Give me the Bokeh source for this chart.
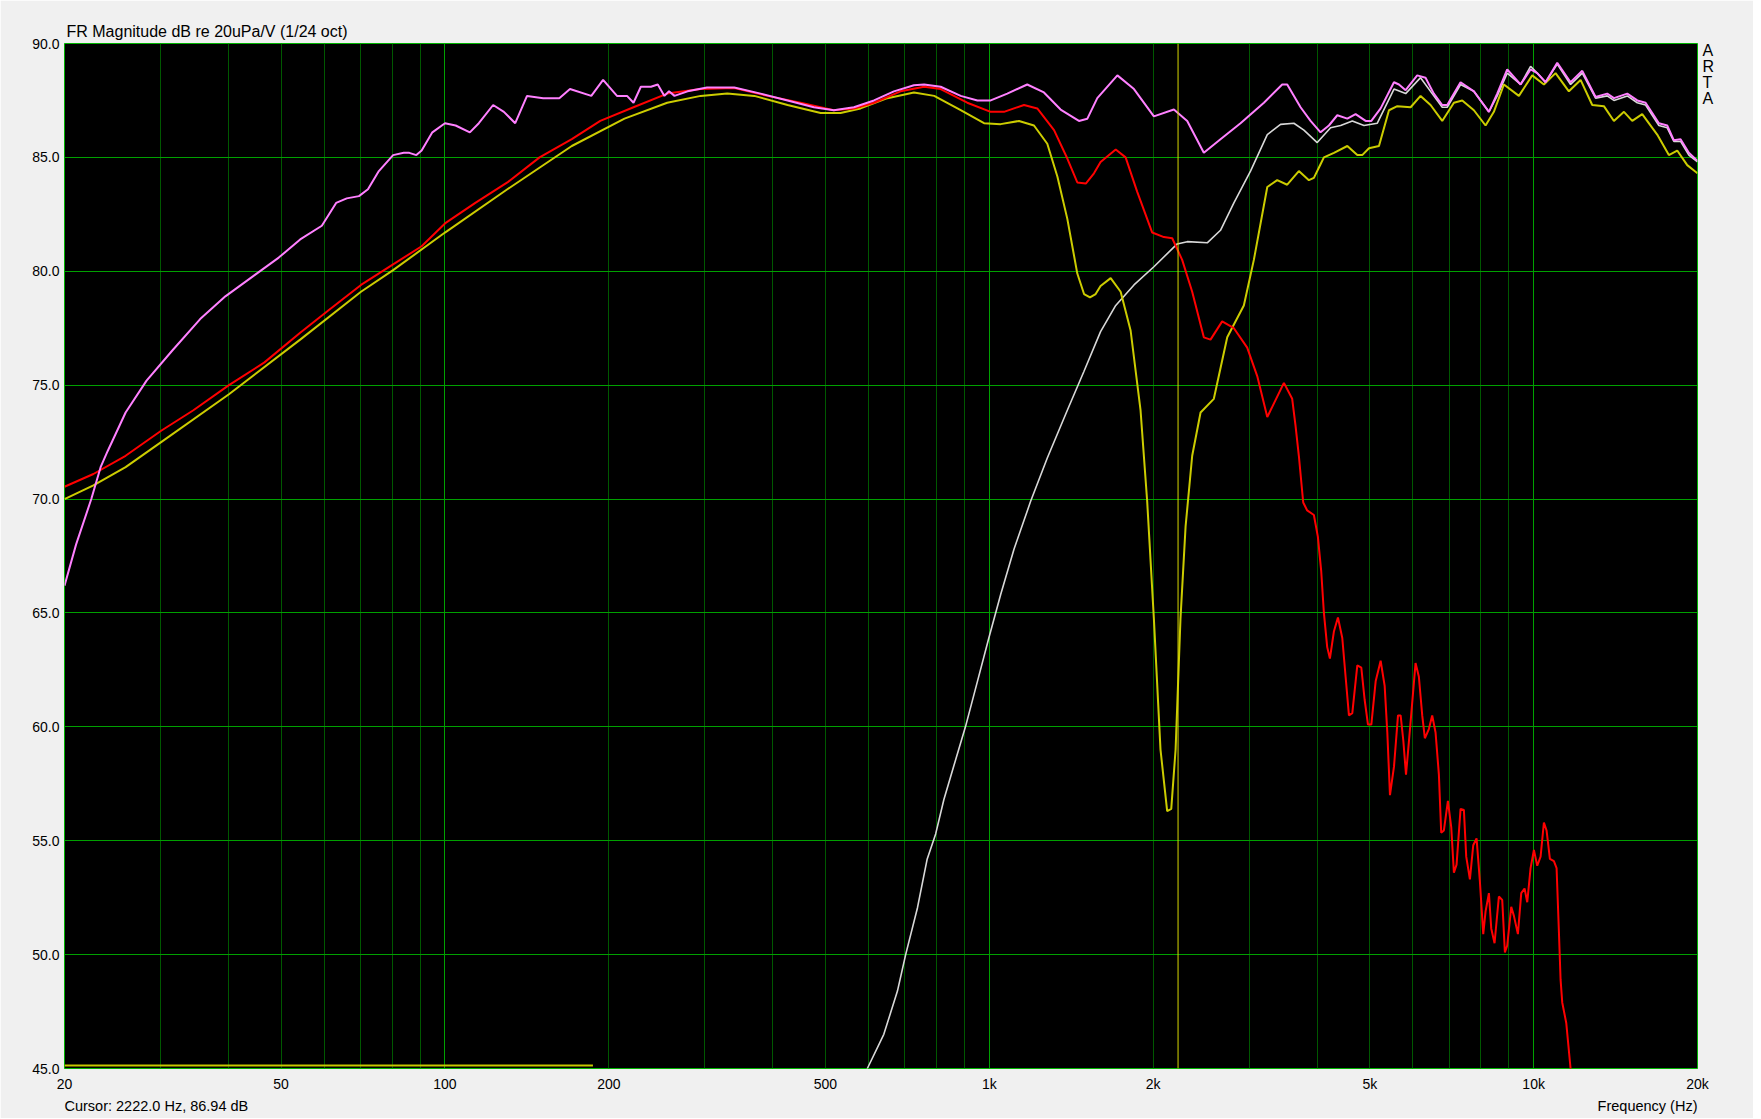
from bokeh.plotting import figure
from bokeh.models import (FixedTicker, Grid, Span, Title, NumeralTickFormatter, Range1d,
                          LogAxis, LinearAxis)
from bokeh.embed import file_html
from bokeh.resources import INLINE

# ---------------- data ----------------
pink_f = [20, 21.0, 22.4, 23.3, 24.0, 25.9, 28.3, 31.5, 35.5, 39.5, 44.5, 49.5, 54.2, 59.4, 63.1, 66.0,
          69.5, 72.2, 75.6, 80.3, 84.0, 86.0, 88.6, 90.6, 94.8, 100.0, 104.6, 111.1, 115.4, 122.6, 128.3,
          134.6, 141.5, 151.5, 162.2, 169.7, 185.7, 195.2, 207, 216, 222, 229, 239, 246, 253, 258, 264,
          279, 303, 340, 380, 426, 476, 518, 564, 614, 668, 727, 759, 814, 886, 951, 1006, 1079, 1174,
          1260, 1352, 1461, 1514, 1579, 1719, 1844, 2006, 2183, 2310, 2478, 2659, 2894, 3195, 3452, 3526,
          3731, 3892, 4060, 4206, 4358, 4547, 4709, 4913, 5033, 5235, 5539, 5657, 5819, 6111, 6330, 6556,
          6793, 6938, 7341, 7767, 7988, 8276, 8572, 8943, 9462, 9871, 10153, 10518, 11050, 11691, 12285,
          12996, 13651, 14044, 14860, 15501, 16057, 16987, 17595, 18098, 18617, 19282, 20000]
pink_db = [66.2, 68.0, 70.0, 71.4, 72.1, 73.8, 75.2, 76.5, 77.9, 78.9, 79.8, 80.6, 81.4, 82.0, 83.0, 83.2,
           83.3, 83.6, 84.4, 85.1, 85.2, 85.2, 85.1, 85.3, 86.1, 86.5, 86.4, 86.1, 86.5, 87.3, 87.0,
           86.5, 87.7, 87.6, 87.6, 88.0, 87.7, 88.4, 87.7, 87.7, 87.4, 88.1, 88.1, 88.2, 87.7, 87.9, 87.7,
           87.9, 88.07, 88.07, 87.8, 87.5, 87.2, 87.07, 87.2, 87.5, 87.9, 88.17, 88.2, 88.1, 87.7, 87.5, 87.5, 87.8, 88.2,
           87.85, 87.1, 86.6, 86.7, 87.6, 88.6, 88.0, 86.8, 87.1, 86.6, 85.2, 85.8, 86.5, 87.4, 88.2, 88.2,
           87.2, 86.6, 86.1, 86.4, 86.85, 86.7, 86.9, 86.6, 86.6, 87.15, 88.3, 88.2, 87.95, 88.6, 88.5, 87.8,
           87.3, 87.3, 88.3, 87.9, 87.5, 87.0, 87.8, 88.86, 88.2, 88.86, 88.7, 88.3, 89.15, 88.3, 88.8,
           87.65, 87.8, 87.6, 87.8, 87.5, 87.4, 86.5, 86.4, 85.75, 85.8, 85.2, 84.85]

red_f = [20, 22.6, 25.9, 30.1, 34.5, 40.1, 46.6, 54.2, 61.2, 70.1, 80.3, 90.6, 100, 113.7, 130.2, 149.2,
         171, 192.9, 222, 256, 295, 340, 391, 450, 518, 564, 614, 687, 759, 814, 911, 1006, 1064, 1158,
         1225, 1315, 1391, 1451, 1504, 1557, 1601, 1707, 1780, 1869, 1992, 2093, 2168, 2261, 2359, 2478,
         2549, 2678, 2814, 2977, 3106, 3241, 3477, 3601, 3653, 3704, 3773, 3837, 3947, 4014, 4071, 4118,
         4176, 4224, 4297, 4370, 4451, 4514, 4578, 4644, 4743, 4824, 4892, 4962, 5033, 5126, 5235, 5325,
         5385, 5446, 5539, 5634, 5697, 5762, 5828, 5927, 6068, 6154, 6242, 6312, 6420, 6511, 6604, 6698,
         6764, 6841, 6958, 7057, 7137, 7218, 7341, 7445, 7519, 7637, 7745, 7855, 7967, 8080, 8160, 8276,
         8358, 8476, 8633, 8756, 8855, 8943, 9096, 9199, 9356, 9489, 9623, 9733, 9871, 10011, 10153,
         10298, 10444, 10562, 10712, 10895, 11019, 11128, 11207, 11286, 11479, 11691, 11800]
red_db = [70.54, 71.1, 71.9, 73.0, 73.9, 75.0, 76.0, 77.3, 78.3, 79.4, 80.3, 81.1, 82.1, 83.0, 83.9, 85.0,
          85.8, 86.6, 87.2, 87.8, 88.0, 88.05, 87.7, 87.4, 87.07, 87.15, 87.4, 87.9, 88.1, 88.0, 87.4, 87.0, 87.0, 87.3,
          87.15, 86.2, 84.95, 83.9, 83.85, 84.3, 84.8, 85.35, 85.0, 83.5, 81.7, 81.5, 81.45, 80.5, 79.1, 77.1,
          77.0, 77.8, 77.5, 76.65, 75.4, 73.6, 75.1, 74.4, 73.2, 71.9, 69.85, 69.5, 69.3, 68.35, 66.85, 65.0,
          63.5, 63.0, 64.2, 64.8, 63.9, 62.2, 60.5, 60.6, 62.7, 62.6, 61.2, 60.1, 60.1, 62.0, 62.9, 61.8,
          59.75, 57.0, 58.25, 60.5, 60.5, 59.4, 57.9, 59.9, 62.8, 62.2, 60.5, 59.5, 59.9, 60.5, 59.75, 57.9,
          55.35, 55.45, 56.75, 55.6, 53.6, 53.95, 56.4, 56.35, 54.3, 53.3, 54.8, 55.1, 53.2, 50.9, 51.9, 52.7,
          51.15, 50.5, 52.55, 52.4, 50.1, 50.4, 52.1, 51.7, 50.9, 52.7, 52.9, 52.3, 53.8, 54.6, 53.9,
          54.3, 55.8, 55.45, 54.2, 54.1, 53.8, 51.0, 48.9, 47.9, 47.0, 45.0, 44.4]

yellow_f = [20, 22.6, 25.9, 30.1, 40.1, 54.2, 70.1, 80.3, 100, 130.2, 171, 213.7, 256, 295, 330, 370, 426,
            490, 533, 580, 650, 727, 792, 886, 978, 1049, 1134, 1208, 1278, 1334, 1391, 1451, 1493, 1531,
            1568, 1601, 1671, 1743, 1818, 1896, 1950, 2006, 2063, 2122, 2159, 2199, 2245, 2294, 2359, 2444,
            2585, 2736, 2935, 3062, 3241, 3380, 3526, 3704, 3865, 3947, 4060, 4118, 4297, 4547, 4743, 4843,
            4983, 5198, 5423, 5618, 5943, 6198, 6466, 6793, 7137, 7393, 7767, 8160, 8452, 8818, 9395, 9941,
            10444, 10972, 11608, 12197, 12814, 13460, 14044, 14653, 15176, 15829, 16866, 17719, 18355, 19150, 20000]
yellow_db = [70.0, 70.6, 71.4, 72.5, 74.6, 77.0, 79.1, 80.05, 81.7, 83.6, 85.5, 86.7, 87.4, 87.7, 87.8, 87.7, 87.3,
             86.95, 86.95, 87.15, 87.6, 87.85, 87.7, 87.07, 86.5, 86.46, 86.6, 86.4, 85.6, 84.15, 82.3, 79.9, 79.0, 78.85,
             79.0, 79.35, 79.7, 79.1, 77.4, 73.9, 69.9, 64.75, 59.0, 56.3, 56.4, 59.0, 64.75, 68.8, 71.9, 73.8,
             74.4, 77.1, 78.5, 80.5, 83.7, 84.0, 83.8, 84.4, 84.0, 84.1, 84.7, 85.0, 85.2, 85.5, 85.1, 85.1,
             85.4, 85.5, 87.07, 87.25, 87.2, 87.7, 87.3, 86.6, 87.4, 87.5, 87.07, 86.4, 87.0, 88.2, 87.7, 88.6,
             88.2, 88.7, 87.9, 88.4, 87.3, 87.25, 86.6, 87.0, 86.6, 86.9, 86.0, 85.1, 85.3, 84.66, 84.3]

white_f = [580, 597, 640, 678, 702, 738, 769, 797, 825, 861, 904, 950, 998, 1049, 1110, 1191, 1278, 1391,
           1492, 1601, 1707, 1844, 2006, 2214, 2310, 2514, 2659, 2814, 3019, 3241, 3428, 3627, 3784, 4003,
           4236, 4420, 4644, 4879, 5162, 5539, 5819, 6198, 6556, 6793, 6938, 7341, 7767, 7988, 8276, 8572,
           8943, 9462, 9871, 10153, 10518, 11050, 11691, 12285, 12996, 13651, 14044, 14860, 15501, 16057,
           16987, 17595, 18098, 18617, 19282, 20000]
white_db = [44.4, 45.0, 46.5, 48.4, 50.0, 52.06, 54.2, 55.3, 56.8, 58.3, 60.0, 61.95, 63.9, 65.8, 67.8, 69.9, 71.8, 73.9,
            75.6, 77.35, 78.5, 79.4, 80.2, 81.2, 81.3, 81.25, 81.8, 83.0, 84.4, 86.0, 86.45, 86.5, 86.2, 85.65,
            86.3, 86.4, 86.6, 86.4, 86.5, 88.0, 87.8, 88.5, 87.7, 87.2, 87.2, 88.2, 87.9, 87.5, 87.0, 87.7,
            88.7, 88.2, 89.0, 88.7, 88.3, 89.1, 88.2, 88.7, 87.6, 87.7, 87.5, 87.7, 87.4, 87.3,
            86.4, 86.3, 85.7, 85.7, 85.1, 84.8]

floor_f = [20, 187]
floor_db = [45.13, 45.13]

cursor_freq = 2222.0
cursor_text = "Cursor: 2222.0 Hz, 86.94 dB"
title_text = "FR Magnitude dB re 20uPa/V (1/24 oct)"
xlabel_text = "Frequency (Hz)"
brand_letters = ["A", "R", "T", "A"]

x_ticks = [20, 50, 100, 200, 500, 1000, 2000, 5000, 10000, 20000]
x_tick_labels = ["20", "50", "100", "200", "500", "1k", "2k", "5k", "10k", "20k"]
y_ticks = [45, 50, 55, 60, 65, 70, 75, 80, 85, 90]
minor_grid = [30, 40, 50, 60, 70, 80, 90, 200, 300, 400, 500, 600, 700, 800, 900,
              2000, 3000, 4000, 5000, 6000, 7000, 8000, 9000]
decade_grid = [100, 1000, 10000]

# anchor positions of the caption texts that sit outside the plot frame
caption_anchor_f = [29.5, 16190]       # centres of "Cursor..." and "Frequency (Hz)"
brand_anchor_db = [89.7, 88.97, 88.29, 87.59]  # centres of the stacked A R T A letters

FONT = "Liberation Sans"

# ---------------- figure ----------------
p = figure(x_axis_type="log", x_range=Range1d(20, 20000), y_range=Range1d(45, 90),
           frame_width=1633, frame_height=1025,
           min_border_left=64, min_border_right=56, min_border_top=43, min_border_bottom=50,
           output_backend="svg", toolbar_location=None,
           background_fill_color="black", border_fill_color="#f0f0f0")
p.outline_line_color = "#00b400"
p.outline_line_width = 1


def style_axis(ax, size):
    ax.axis_line_color = None
    ax.major_tick_line_color = None
    ax.minor_tick_line_color = None
    ax.major_tick_out = 0
    ax.major_tick_in = 0
    ax.major_label_text_font = FONT
    ax.major_label_text_font_size = size
    ax.major_label_text_color = "black"


# main axes
xa = p.xaxis[0]
ya = p.yaxis[0]
xa.ticker = FixedTicker(ticks=x_ticks)
xa.major_label_overrides = {t: l for t, l in zip(x_ticks, x_tick_labels)}
ya.ticker = FixedTicker(ticks=y_ticks)
ya.formatter = NumeralTickFormatter(format="0.0")
style_axis(xa, "14px")
style_axis(ya, "14px")
xa.major_label_standoff = 7
ya.major_label_standoff = 5

# caption row below the tick labels
cap = LogAxis(ticker=FixedTicker(ticks=caption_anchor_f),
              major_label_overrides={caption_anchor_f[0]: cursor_text, caption_anchor_f[1]: xlabel_text})
style_axis(cap, "14.5px")
cap.major_label_standoff = 3
p.add_layout(cap, "below")

# stacked brand letters at the right
brand = LinearAxis(ticker=FixedTicker(ticks=brand_anchor_db),
                   major_label_overrides={d: c for d, c in zip(brand_anchor_db, brand_letters)})
style_axis(brand, "16px")
brand.major_label_standoff = 5
p.add_layout(brand, "right")

# title
p.add_layout(Title(text=title_text, align="left", offset=2, standoff=7,
                   text_font=FONT, text_font_size="16px", text_font_style="normal",
                   text_color="black"), "above")

# grids
p.xgrid.ticker = FixedTicker(ticks=minor_grid)
p.xgrid.grid_line_color = "#005800"
p.xgrid.grid_line_width = 1
p.ygrid.ticker = FixedTicker(ticks=y_ticks[1:-1])
p.ygrid.grid_line_color = "#00a000"
p.ygrid.grid_line_width = 1
dec = Grid(dimension=0, ticker=FixedTicker(ticks=decade_grid), grid_line_color="#00a000", grid_line_width=1)
p.add_layout(dec)

# curves
p.line(floor_f, floor_db, line_color="#c8c800", line_width=2)
p.line(white_f, white_db, line_color="#d8d8d8", line_width=1.6)
p.line(yellow_f, yellow_db, line_color="#cccc00", line_width=2)
p.line(red_f, red_db, line_color="#ff0000", line_width=2)
p.line(pink_f, pink_db, line_color="#ff80ff", line_width=2)

p.add_layout(Span(location=cursor_freq, dimension="height", line_color="#d8d800", line_width=1))

open("out.html", "w").write(file_html(p, INLINE))
